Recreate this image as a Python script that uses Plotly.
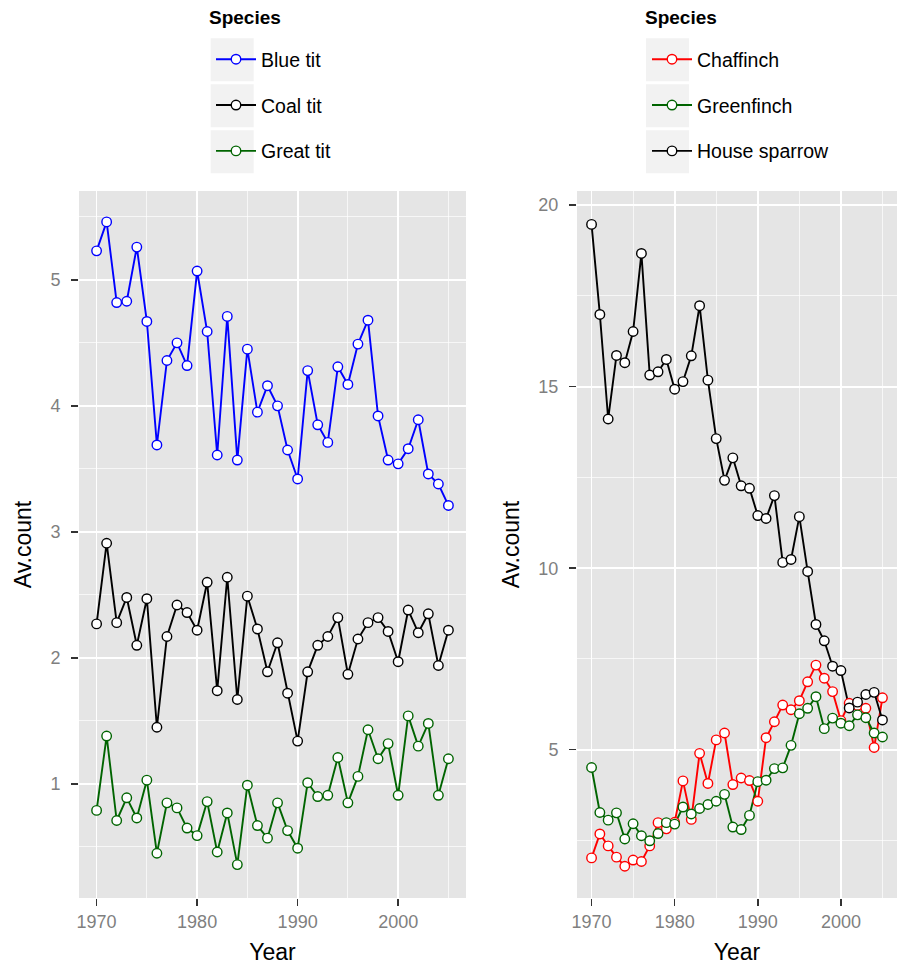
import plotly.graph_objects as go

years = list(range(1970, 2006))

# Left panel (tits)
blue_tit = [5.23, 5.46, 4.82, 4.83, 5.26, 4.67, 3.69, 4.36, 4.50, 4.32,
            5.07, 4.59, 3.61, 4.71, 3.57, 4.45, 3.95, 4.16, 4.00, 3.65,
            3.42, 4.28, 3.85, 3.71, 4.31, 4.17, 4.49, 4.68, 3.92, 3.57,
            3.54, 3.66, 3.89, 3.46, 3.38, 3.21]
coal_tit = [2.27, 2.91, 2.28, 2.48, 2.10, 2.47, 1.45, 2.17, 2.42, 2.36,
            2.22, 2.60, 1.74, 2.64, 1.67, 2.49, 2.23, 1.89, 2.12, 1.72,
            1.34, 1.89, 2.10, 2.17, 2.32, 1.87, 2.15, 2.28, 2.32, 2.21,
            1.97, 2.38, 2.20, 2.35, 1.94, 2.22]
great_tit = [0.79, 1.38, 0.71, 0.89, 0.73, 1.03, 0.45, 0.85, 0.81, 0.65,
             0.59, 0.86, 0.46, 0.77, 0.36, 0.99, 0.67, 0.57, 0.85, 0.63,
             0.49, 1.01, 0.90, 0.91, 1.21, 0.85, 1.06, 1.43, 1.20, 1.32,
             0.91, 1.54, 1.30, 1.48, 0.91, 1.20]

# Right panel (finches / sparrow)
chaffinch = [2.02, 2.68, 2.35, 2.04, 1.79, 1.96, 1.92, 2.35, 2.99, 2.82,
             3.00, 4.14, 3.08, 4.90, 4.07, 5.27, 5.46, 4.04, 4.22, 4.15,
             3.58, 5.33, 5.77, 6.23, 6.10, 6.35, 6.87, 7.33, 6.97, 6.60,
             5.80, 6.28, 6.22, 6.14, 5.06, 6.43]
greenfinch = [4.51, 3.27, 3.06, 3.26, 2.54, 2.96, 2.63, 2.49, 2.69, 2.99,
              2.95, 3.42, 3.23, 3.38, 3.49, 3.58, 3.77, 2.87, 2.80, 3.19,
              4.12, 4.16, 4.48, 4.50, 5.12, 5.99, 6.14, 6.46, 5.58, 5.87,
              5.73, 5.66, 5.96, 5.88, 5.46, 5.35]
house_sparrow = [19.47, 16.99, 14.11, 15.86, 15.66, 16.52, 18.67, 15.32, 15.41, 15.75,
                 14.93, 15.14, 15.85, 17.23, 15.18, 13.57, 12.42, 13.04, 12.27, 12.20,
                 11.45, 11.37, 12.00, 10.16, 10.24, 11.42, 9.91, 8.45, 8.00, 7.30,
                 7.18, 6.15, 6.31, 6.52, 6.58, 5.82]

left_series = [("Blue tit", blue_tit, "#0000FF"),
               ("Coal tit", coal_tit, "#000000"),
               ("Great tit", great_tit, "#006400")]
right_series = [("Chaffinch", chaffinch, "#FF0000"),
                ("Greenfinch", greenfinch, "#006400"),
                ("House sparrow", house_sparrow, "#000000")]

W, H = 898, 965
FONT = "Liberation Sans"
BG = "#E5E5E5"

fig = go.Figure()

for series, xa, ya, leg in [(left_series, "x", "y", "legend"),
                            (right_series, "x2", "y2", "legend2")]:
    # lines first (like geom_line), then points on top (geom_point)
    for name, vals, col in series:
        fig.add_trace(go.Scatter(x=years, y=vals, mode="lines", showlegend=False,
                                 line=dict(color=col, width=1.9),
                                 xaxis=xa, yaxis=ya, hoverinfo="skip"))
    for name, vals, col in series:
        fig.add_trace(go.Scatter(x=years, y=vals, mode="markers", showlegend=False,
                                 name=name,
                                 marker=dict(size=9.5, color="white",
                                             line=dict(color=col, width=1.4)),
                                 xaxis=xa, yaxis=ya))
    for name, vals, col in series:
        fig.add_trace(go.Scatter(x=[None], y=[None], mode="lines+markers", name=name,
                                 line=dict(color=col, width=1.9),
                                 marker=dict(size=9.5, color="white",
                                             line=dict(color=col, width=1.4)),
                                 xaxis=xa, yaxis=ya, legend=leg, legendgroup=name))

ydom = [1 - 898 / H, 1 - 191 / H]

def xaxis_cfg(dom, anchor):
    return dict(domain=dom, anchor=anchor, range=[1968.25, 2006.75], automargin=False,
                tick0=1970, dtick=10, showgrid=True, gridcolor="white", gridwidth=1.8,
                minor=dict(tick0=1970, dtick=5, showgrid=True, gridcolor="white",
                           gridwidth=0.7, ticks=""),
                ticks="outside", ticklen=7, tickwidth=1.5, tickcolor="#333333",
                ticklabelstandoff=0,
                tickfont=dict(size=18, color="#7F7F7F"), zeroline=False, showline=False,
                title=dict(text="Year", font=dict(size=23, color="black"), standoff=18))

def yaxis_cfg(anchor, rng, dtick, mdtick, standoff):
    return dict(domain=ydom, anchor=anchor, range=rng, tick0=0, dtick=dtick,
                automargin=False,
                showgrid=True, gridcolor="white", gridwidth=1.8,
                minor=dict(tick0=0, dtick=mdtick, showgrid=True, gridcolor="white",
                           gridwidth=0.7, ticks=""),
                ticks="outside", ticklen=7, tickwidth=1.5, tickcolor="#333333",
                ticklabelstandoff=7,
                tickfont=dict(size=18, color="#7F7F7F"), zeroline=False, showline=False,
                title=dict(text="Av.count", font=dict(size=23, color="black"),
                           standoff=standoff))

legend_common = dict(xanchor="left", yanchor="top", bgcolor="rgba(0,0,0,0)",
                     font=dict(size=19.5, color="black", family=FONT),
                     tracegroupgap=17.5, traceorder="grouped", itemwidth=40)

shapes = []
for lx in (210.7, 646.0):
    for top in (38.3, 84.3, 130.3):
        shapes.append(dict(type="rect", xref="paper", yref="paper",
                           x0=lx / W, x1=(lx + 43) / W,
                           y0=1 - (top + 43) / H, y1=1 - top / H,
                           fillcolor="#F2F2F2", line=dict(width=0), layer="below"))

annotations = [dict(text="<b>Species</b>", xref="paper", yref="paper",
                    x=tx / W, y=1 - 5 / H, xanchor="left", yanchor="top",
                    showarrow=False, font=dict(size=19, color="black"))
               for tx in (207, 643)]

fig.update_layout(
    width=W, height=H, autosize=False,
    margin=dict(l=0, r=0, t=0, b=0, autoexpand=False),
    paper_bgcolor="white", plot_bgcolor=BG,
    font=dict(family=FONT, color="black"),
    xaxis=xaxis_cfg([79 / W, 466 / W], "y"),
    xaxis2=xaxis_cfg([577 / W, 897 / W], "y2"),
    yaxis=yaxis_cfg("x", [0.095, 5.705], 1, 0.5, 12),
    yaxis2=yaxis_cfg("x2", [0.915, 20.39], 5, 2.5, 12),
    legend=dict(x=211 / W, y=1 - 40 / H, **legend_common),
    legend2=dict(x=647 / W, y=1 - 40 / H, **legend_common),
    shapes=shapes,
    annotations=annotations,
)

fig.write_html("out.html", config={"displayModeBar": False, "staticPlot": True},
               post_script="document.body.style.margin='0px';document.body.style.padding='0px';")
